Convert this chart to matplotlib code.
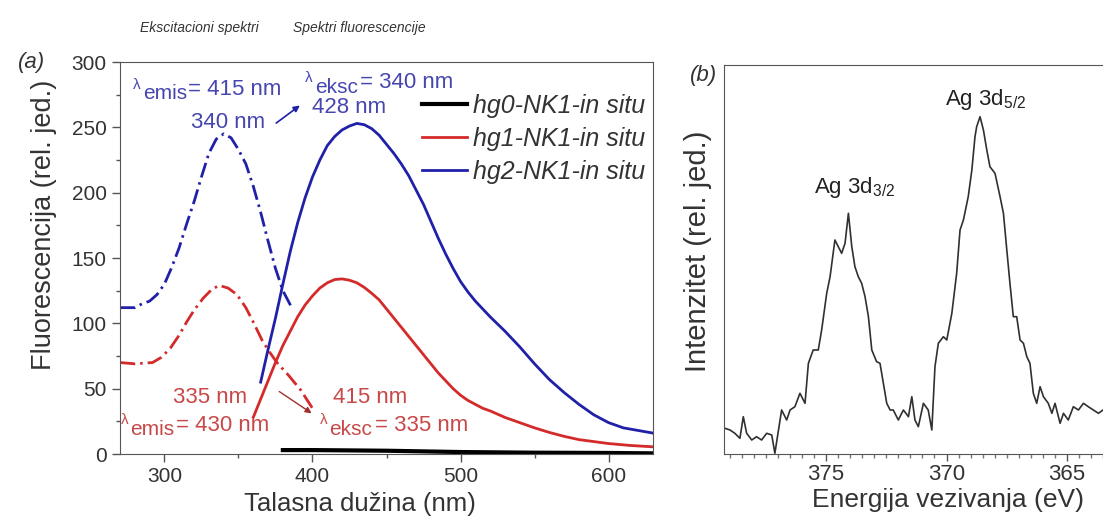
import matplotlib
matplotlib.use("Agg")
import matplotlib.pyplot as plt
from matplotlib.ticker import MultipleLocator

plt.rcParams["font.family"] = ["Liberation Sans", "DejaVu Sans"]
plt.rcParams["mathtext.fontset"] = "custom"
plt.rcParams["mathtext.rm"] = "Liberation Sans"
plt.rcParams["mathtext.it"] = "Liberation Sans:italic"

# (a) excitation spectra (dash-dot)
exc_hg2_x = [270, 280, 285, 290, 295, 300, 305, 310, 315, 320, 325, 330, 335, 340,
             345, 350, 355, 360, 365, 370, 375, 380, 386]
exc_hg2_y = [112, 112, 115, 117, 122, 130, 143, 158, 176, 193, 212, 230, 241, 245,
             242, 233, 222, 205, 185, 163, 142, 125, 112]
exc_hg1_x = [270, 280, 292, 298, 304, 310, 315, 320, 326, 332, 337, 343, 349, 355,
             360, 366, 371, 376, 384, 392, 400]
exc_hg1_y = [70, 69, 70, 74, 81, 91, 101, 110, 119, 126, 129, 127, 122, 112,
             101, 87, 78, 70, 60, 49, 35]

# (a) fluorescence spectra (solid)
em_hg2_x = [365, 370, 375, 380, 385, 390, 395, 400, 405, 410, 415, 420, 425, 430,
            435, 440, 445, 450, 455, 460, 465, 470, 475, 480, 485, 490, 495, 500,
            505, 510, 515, 520, 530, 540, 550, 560, 570, 580, 590, 600, 610, 620, 630]
em_hg2_y = [55, 80, 104, 130, 155, 177, 196, 212, 225, 236, 243, 248, 251, 253,
            252, 249, 244, 237, 230, 222, 213, 202, 191, 178, 165, 153, 142, 132,
            124, 117, 111, 105, 94, 82, 69, 57, 47, 38, 30, 24, 20, 18, 16]
em_hg1_x = [360, 365, 370, 375, 380, 385, 390, 395, 400, 405, 410, 415, 420, 425,
            430, 435, 440, 445, 450, 455, 460, 465, 470, 475, 480, 485, 490, 495,
            500, 505, 510, 515, 520, 530, 540, 550, 560, 570, 580, 590, 600, 615, 630]
em_hg1_y = [28, 42, 56, 70, 83, 94, 105, 114, 121, 127, 131, 133.5, 134, 133,
            131, 127.5, 123, 118, 111, 104, 97, 90, 83, 76, 69, 62, 56, 50,
            45, 41, 38, 35, 33, 28, 24, 20, 16.5, 13.5, 11, 9.5, 8, 6.5, 5.5]
em_hg0_x = [380, 400, 450, 500, 550, 600, 630]
em_hg0_y = [3, 3, 2.5, 1.5, 1, 0.8, 0.5]

labels = ["hg0-NK1-in situ", "hg1-NK1-in situ", "hg2-NK1-in situ"]

# (b) XPS Ag 3d
xps_e = [379.19, 378.98, 378.78, 378.57, 378.43, 378.29, 378.08, 377.88, 377.67, 377.46,
         377.25, 377.12, 376.84, 376.63, 376.49, 376.29, 376.08, 375.87, 375.73, 375.53,
         375.32, 375.18, 374.97, 374.83, 374.63, 374.49, 374.35, 374.21, 374.07, 373.93,
         373.80, 373.66, 373.52, 373.38, 373.24, 373.10, 372.90, 372.76, 372.48, 372.34,
         372.21, 372.00, 371.79, 371.58, 371.44, 371.31, 371.17, 370.96, 370.76, 370.61,
         370.48, 370.34, 370.13, 369.99, 369.78, 369.58, 369.44, 369.30, 369.10, 368.95,
         368.82, 368.75, 368.61, 368.47, 368.33, 368.20, 367.99, 367.78, 367.64, 367.50,
         367.37, 367.23, 367.09, 366.95, 366.81, 366.67, 366.54, 366.40, 366.26, 366.12,
         365.98, 365.78, 365.63, 365.50, 365.29, 365.15, 364.95, 364.74, 364.53, 364.32,
         364.12, 363.91, 363.70, 363.51]
xps_i = [25.7, 24, 20.7, 15.7, 37.3, 20.7, 14, 17.3, 14, 20.7,
         19, 0.7, 44, 34, 44, 47.3, 60.7, 50.7, 90.7, 104,
         104, 124, 160.7, 177.3, 214, 207.3, 200.7, 210.7, 240.7, 207.3,
         187.3, 177.3, 170.7, 157.3, 137.3, 104, 92.3, 90.7, 50.7, 44,
         44, 34, 44, 37.3, 57.3, 34, 27.3, 50.7, 44, 24,
         87.3, 110.7, 117.3, 114, 140.7, 180.7, 224, 234, 257.3, 284,
         317.3, 327.3, 337.3, 324, 304, 287.3, 280.7, 257.3, 240.7, 204,
         170.7, 137.3, 137.3, 114, 110.7, 97.3, 90.7, 60.7, 50.7, 67.3,
         57.3, 50.7, 40.7, 50.7, 30.7, 40.7, 34, 47.3, 44, 50.7,
         47.3, 44, 40.7, 44]

BLUE = "#2020a8"
RED = "#d42a2a"
BLUE_TXT = "#4646b0"
RED_TXT = "#c84848"
GREY = "#333333"
dashdot = (0, (5.5, 1.8, 0.9, 1.8))


def lam_label(ax, x, y, sub, rest, color):
    # small raised lambda, lowered subscript word, then the value
    off = dict(textcoords="offset points", va="center", color=color)
    ax.annotate("λ", (x, y), xytext=(0, 3.5), fontsize=11, **off)
    ax.annotate(sub, (x, y), xytext=(7, -3), fontsize=15, **off)
    ax.annotate(rest, (x, y), xytext=(39.5, 0), fontsize=16, **off)


fig = plt.figure(figsize=(11.03, 5.23), dpi=100)
W, H = 1103, 523
ax = fig.add_axes([120 / W, 1 - 454 / H, 533 / W, 392 / H])
bx = fig.add_axes([724 / W, 1 - 454 / H, 386 / W, 389 / H])

ax.plot(exc_hg2_x, exc_hg2_y, color=BLUE, lw=2, linestyle=dashdot)
ax.plot(exc_hg1_x, exc_hg1_y, color=RED, lw=2, linestyle=dashdot)
ax.plot(em_hg0_x, em_hg0_y, color="black", lw=3, label=labels[0])
ax.plot(em_hg1_x, em_hg1_y, color=RED, lw=2, label=labels[1])
ax.plot(em_hg2_x, em_hg2_y, color=BLUE, lw=2, label=labels[2])

ax.set_xlim(270, 630)
ax.set_ylim(0, 300)
ax.xaxis.set_major_locator(MultipleLocator(100))
ax.xaxis.set_minor_locator(MultipleLocator(50))
ax.yaxis.set_major_locator(MultipleLocator(50))
ax.yaxis.set_minor_locator(MultipleLocator(25))
ax.tick_params(which="major", direction="out", length=6, width=1, colors="#555555",
               labelcolor=GREY, labelsize=15)
ax.tick_params(which="minor", direction="out", length=3, width=1, colors="#555555")
for s in ax.spines.values():
    s.set_color("#555555")
ax.set_xlabel("Talasna dužina (nm)", fontsize=18.5, color=GREY)
ax.set_ylabel("Fluorescencija (rel. jed.)", fontsize=19.5, color=GREY)
ax.xaxis.set_label_coords(0.45, -0.097)
ax.yaxis.set_label_coords(-0.118, 0.584)

leg = ax.legend(loc="upper left", bbox_to_anchor=(0.567, 0.918), frameon=False,
                fontsize=18, handlelength=1.8, handletextpad=0.24, labelspacing=0.36,
                borderpad=0, borderaxespad=0)
for t in leg.get_texts():
    t.set_fontstyle("italic")
    t.set_color(GREY)

ann = dict(fontsize=16, va="center")
lam_label(ax, 279, 279, "emis", "= 415 nm", BLUE_TXT)
ax.text(343, 254, "340 nm", color=BLUE_TXT, ha="center", **ann)
lam_label(ax, 395, 284, "eksc", "= 340 nm", BLUE_TXT)
ax.text(400, 265.5, "428 nm", color=BLUE_TXT, **ann)
ax.annotate("", xy=(393, 268), xytext=(374, 252),
            arrowprops=dict(arrowstyle="-|>", color=BLUE, lw=1.2, mutation_scale=9))

ax.text(306, 43.6, "335 nm", color=RED_TXT, **ann)
lam_label(ax, 270.5, 22, "emis", "= 430 nm", RED_TXT)
ax.text(414, 43.6, "415 nm", color=RED_TXT, **ann)
lam_label(ax, 405, 22, "eksc", "= 335 nm", RED_TXT)
ax.annotate("", xy=(401, 30), xytext=(376, 49),
            arrowprops=dict(arrowstyle="-|>", color="#a03030", lw=1, mutation_scale=9))

fig.text(140 / W, 1 - 28 / H, "Ekscitacioni spektri", fontsize=10, style="italic",
         color=GREY, va="center")
fig.text(293 / W, 1 - 28 / H, "Spektri fluorescencije", fontsize=10, style="italic",
         color=GREY, va="center")
fig.text(18 / W, 1 - 62 / H, "(a)", fontsize=16, style="italic", color=GREY, va="center")
fig.text(690 / W, 1 - 75 / H, "(b)", fontsize=16, style="italic", color=GREY, va="center")

# (b)
bx.plot(xps_e, xps_i, color="#303030", lw=1.2)
bx.set_xlim(379.23, 363.22)
bx.set_ylim(0, 389)
bx.xaxis.set_major_locator(MultipleLocator(5))
bx.xaxis.set_minor_locator(MultipleLocator(0.5))
bx.set_yticks([])
bx.tick_params(which="major", direction="out", length=5, width=1, colors="#555555",
               labelcolor=GREY, labelsize=16, pad=2.5)
bx.tick_params(which="minor", direction="out", length=3, width=1, colors="#777777")
for s in bx.spines.values():
    s.set_color("#555555")
bx.set_xlabel("Energija vezivanja (eV)", fontsize=19, color=GREY)
bx.set_ylabel("Intenzitet (rel. jed.)", fontsize=21, color=GREY)
bx.xaxis.set_label_coords(0.58, -0.088)
bx.yaxis.set_label_coords(-0.031, 0.52)
bx.text(368.4, 354, r"Ag 3d$_{5/2}$", fontsize=16, color="#222222", ha="center", va="center")
bx.text(373.8, 266, r"Ag 3d$_{3/2}$", fontsize=16, color="#222222", ha="center", va="center")

fig.savefig("out.png", dpi=100)
